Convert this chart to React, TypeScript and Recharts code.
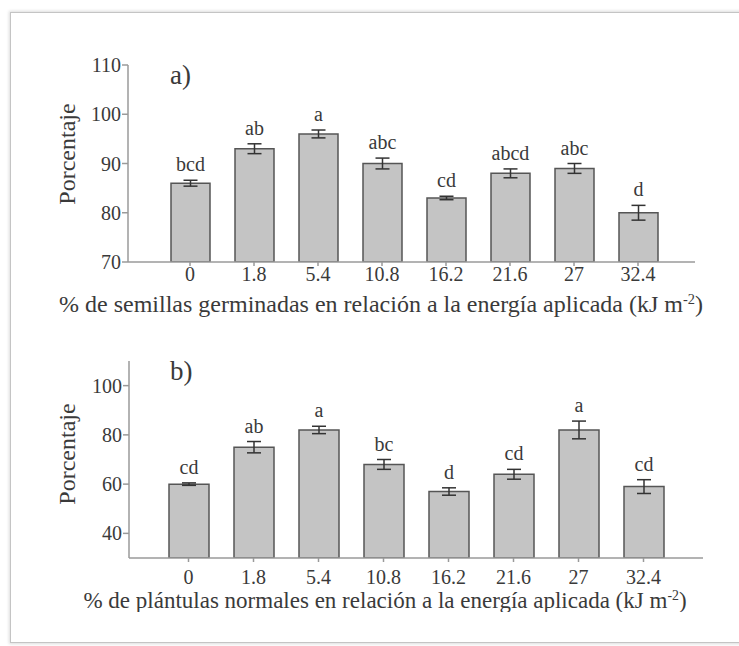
import { BarChart, Bar, XAxis, YAxis, ErrorBar, LabelList, Customized } from 'recharts';

const categories = ['0', '1.8', '5.4', '10.8', '16.2', '21.6', '27', '32.4'];

// a) semillas germinadas
const germinadas = [86, 93, 96, 90, 83, 88, 89, 80];
const germinadasErr = [0.6, 1, 0.8, 1.1, 0.35, 0.9, 1, 1.5];
const germinadasLetras = ['bcd', 'ab', 'a', 'abc', 'cd', 'abcd', 'abc', 'd'];
const germinadasTicks = [70, 80, 90, 100, 110];

// b) plántulas normales
const normales = [60, 75, 82, 68, 57, 64, 82, 59];
const normalesErr = [0.5, 2.3, 1.5, 2, 1.5, 2, 3.6, 2.8];
const normalesLetras = ['cd', 'ab', 'a', 'bc', 'd', 'cd', 'a', 'cd'];
const normalesTicks = [40, 60, 80, 100];

const FONT = '"Liberation Serif", "Times New Roman", serif';
const TXT = '#3a3a3a';
const AXIS = '#9a9a9a';

interface PanelProps {
  values: number[];
  errs: number[];
  letras: string[];
  ticks: number[];
  domain: [number, number];
  tag: string;
  title: string;
  top: number;
  left: number;
  right: number;
  padding: { left: number; right: number };
  barSize: number;
  tickMargin: number;
  titleX: number;
  titleY: number;
  titleSize: number;
  tagY: number;
  ylabelY: number;
}

function Panel(p: PanelProps) {
  const data = categories.map((c, i) => ({ cat: c, valor: p.values[i], err: p.errs[i], letra: p.letras[i] }));
  const height = p.top + 197 + 70;

  const Letra = (props: any) => {
    const { x, y, width, height: h, index } = props;
    const d = data[index];
    const ppu = Number(h) / (d.valor - p.domain[0]);
    const errTop = Number(y) - d.err * ppu;
    return (
      <text x={Number(x) + Number(width) / 2} y={errTop - 9} textAnchor="middle" fontFamily={FONT} fontSize={20} fill={TXT}>
        {d.letra}
      </text>
    );
  };

  const Titulo = () => (
    <text x={p.titleX} y={p.titleY} textAnchor="middle" fontFamily={FONT} fontSize={p.titleSize} fill={TXT}>
      {p.title}
      <tspan fontSize={p.titleSize * 0.6} dy={-p.titleSize * 0.35}>-2</tspan>
      <tspan dy={p.titleSize * 0.35}>)</tspan>
    </text>
  );

  const Porcentaje = () => (
    <text x={0} y={0} transform={`translate(75, ${p.ylabelY}) rotate(-90)`} textAnchor="middle" fontFamily={FONT} fontSize={24} fill={TXT}>
      Porcentaje
    </text>
  );

  return (
    <BarChart width={739} height={height} data={data} margin={{ top: p.top, left: p.left - 60, right: 739 - p.right, bottom: 0 }}>
      <XAxis
        dataKey="cat"
        height={70}
        padding={p.padding}
        stroke={AXIS}
        strokeWidth={1.5}
        tickSize={4}
        tickMargin={p.tickMargin}
        tick={{ fill: TXT, fontFamily: FONT, fontSize: 20 }}
        label={{ content: Titulo }}
      />
      <YAxis
        width={60}
        domain={p.domain}
        ticks={p.ticks}
        allowDataOverflow
        stroke={AXIS}
        strokeWidth={1.5}
        tickSize={6}
        tickMargin={1}
        tick={{ fill: TXT, fontFamily: FONT, fontSize: 20 }}
      />
      <Bar dataKey="valor" fill="#c4c4c4" stroke="#555" strokeWidth={1.5} barSize={p.barSize} isAnimationActive={false}>
        <ErrorBar dataKey="err" width={7} stroke="#333" strokeWidth={1.5} direction="y" />
        <LabelList dataKey="letra" content={Letra} />
      </Bar>
      <Customized component={Porcentaje} />
      <Customized
        component={() => (
          <text x={170} y={p.tagY} fontFamily={FONT} fontSize={27} fill={TXT}>
            {p.tag}
          </text>
        )}
      />
    </BarChart>
  );
}

export default function App() {
  return (
    <div style={{ position: 'absolute', left: 0, top: 0, width: 739, height: 646, overflow: 'hidden', background: '#fff', fontFamily: FONT }}>
      <div
        style={{
          position: 'absolute',
          left: 10,
          top: 12,
          width: 780,
          height: 629,
          border: '1.5px solid #c4c4c4',
          boxShadow: '0 0 3px 1px #dcdcdc',
        }}
      />
      <div style={{ position: 'absolute', left: 0, top: 0 }}>
        <Panel
          values={germinadas}
          errs={germinadasErr}
          letras={germinadasLetras}
          ticks={germinadasTicks}
          domain={[70, 110]}
          tag="a)"
          title="% de semillas germinadas en relación a la energía aplicada (kJ m"
          top={65}
          left={128}
          right={695}
          padding={{ left: 30, right: 25 }}
          barSize={39}
          tickMargin={1}
          titleX={381}
          titleY={312}
          titleSize={24}
          tagY={84}
          ylabelY={154}
        />
      </div>
      <div style={{ position: 'absolute', left: 0, top: 296, height: 316, overflow: 'hidden' }}>
        <Panel
          values={normales}
          errs={normalesErr}
          letras={normalesLetras}
          ticks={normalesTicks}
          domain={[30, 110]}
          tag="b)"
          title="% de plántulas normales en relación a la energía aplicada (kJ m"
          top={65}
          left={129}
          right={703}
          padding={{ left: 27, right: 27 }}
          barSize={40}
          tickMargin={8}
          titleX={385}
          titleY={312}
          titleSize={23}
          tagY={84}
          ylabelY={158}
        />
      </div>
    </div>
  );
}
